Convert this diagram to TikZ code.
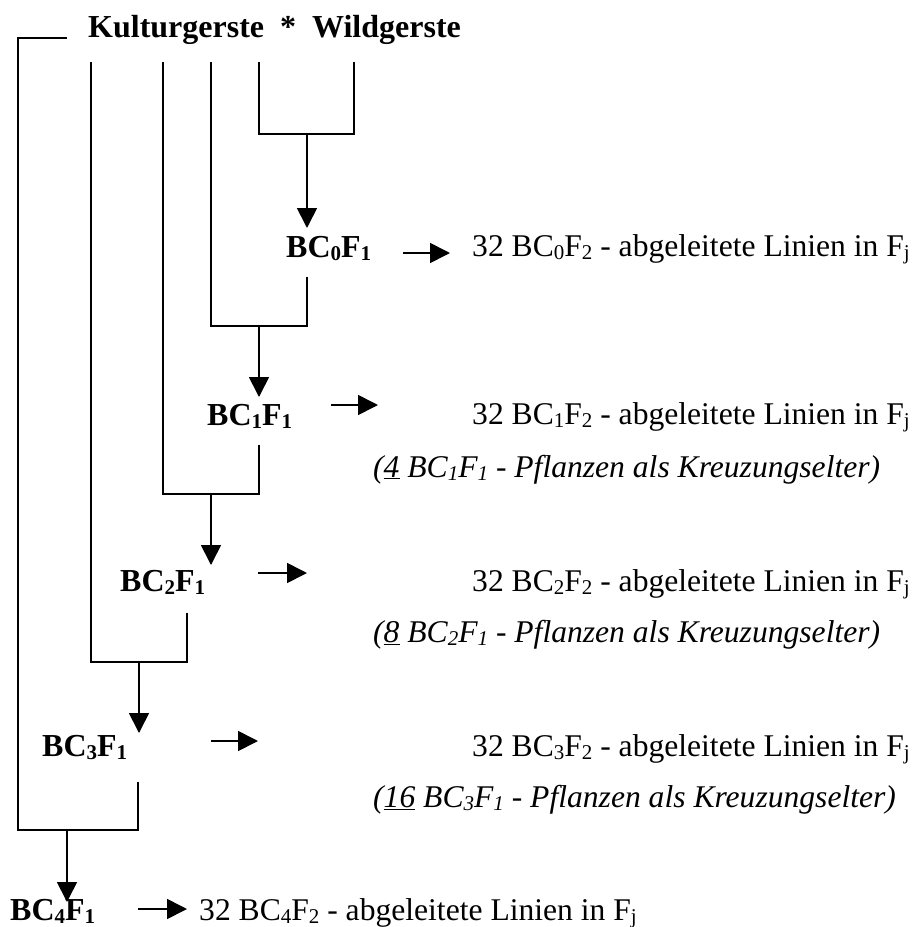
\documentclass[tikz,border=0pt]{standalone}
\usepackage{fontspec}
\setmainfont{Liberation Serif}
\usetikzlibrary{arrows.meta}
\newcommand{\lo}[1]{\raisebox{-0.1em}{\fontsize{21}{21}\selectfont #1}}
\begin{document}
\begin{tikzpicture}[x=1pt,y=-1pt,
  line/.style={line width=1.7pt},
  arr/.style={line width=1.7pt,-{Triangle[width=20pt,length=20pt]}},
  base/.style={inner sep=0pt,anchor=base west,font=\fontsize{31.6}{38}\selectfont},
  bold/.style={base,font=\fontsize{32}{38}\selectfont\bfseries},
  ital/.style={base,font=\fontsize{31.6}{38}\selectfont\itshape}]
\path[use as bounding box] (0,0) rectangle (916,927);

% texts
\node[bold] (title) at (88,37) {Kulturgerste~~*~~Wildgerste};
\node[bold] (bc0) at (286,257) {BC\lo{0}F\lo{1}};
\node[bold] (bc1) at (207,425) {BC\lo{1}F\lo{1}};
\node[bold] (bc2) at (120,591) {BC\lo{2}F\lo{1}};
\node[bold] (bc3) at (42,756) {BC\lo{3}F\lo{1}};
\node[bold] (bc4) at (10,920) {BC\lo{4}F\lo{1}};

\node[base] (t0) at (472,256) {32 BC\lo{0}F\lo{2} - abgeleitete Linien in F\lo{j}};
\node[base] (t1) at (472,424) {32 BC\lo{1}F\lo{2} - abgeleitete Linien in F\lo{j}};
\node[base] (t2) at (472,591) {32 BC\lo{2}F\lo{2} - abgeleitete Linien in F\lo{j}};
\node[base] (t3) at (472,756) {32 BC\lo{3}F\lo{2} - abgeleitete Linien in F\lo{j}};
\node[base] (t4) at (199,920) {32 BC\lo{4}F\lo{2} - abgeleitete Linien in F\lo{j}};

\node[ital] (i1) at (373,477) {(\underline{4} BC\lo{1}F\lo{1} - Pflanzen als Kreuzungselter)};
\node[ital] (i2) at (373,642) {(\underline{8} BC\lo{2}F\lo{1} - Pflanzen als Kreuzungselter)};
\node[ital] (i3) at (373,807) {(\underline{16} BC\lo{3}F\lo{1} - Pflanzen als Kreuzungselter)};

% junction coordinates
\coordinate (a0) at (18,38); \coordinate (a1) at (67,38);
\coordinate (p91) at (91,62); \coordinate (p163) at (163,62);
\coordinate (p211) at (211,62); \coordinate (p259) at (259,62);
\coordinate (p354) at (354,62);

\coordinate (h0l) at (259,134); \coordinate (h0r) at (354,134);
\coordinate (h0m) at (307,134); \coordinate (tip0) at (307,228);

\coordinate (s0) at (307,277); \coordinate (h1r) at (307,326);
\coordinate (h1l) at (211,326); \coordinate (h1m) at (259,326);
\coordinate (tip1) at (259,397);

\coordinate (s1) at (259,445); \coordinate (h2r) at (259,494);
\coordinate (h2l) at (163,494); \coordinate (h2m) at (211,494);
\coordinate (tip2) at (211,565);

\coordinate (s2) at (187,613); \coordinate (h3r) at (187,662);
\coordinate (h3l) at (91,662); \coordinate (h3m) at (139,662);
\coordinate (tip3) at (139,733);

\coordinate (s3) at (138,782); \coordinate (h4r) at (138,830);
\coordinate (h4l) at (18,830); \coordinate (h4m) at (67,830);
\coordinate (tip4) at (67,902);

\coordinate (r0a) at (403,253); \coordinate (r0b) at (450,253);
\coordinate (r1a) at (331,405); \coordinate (r1b) at (378,405);
\coordinate (r2a) at (258,573); \coordinate (r2b) at (307,573);
\coordinate (r3a) at (211,741); \coordinate (r3b) at (258,741);
\coordinate (r4a) at (138,909); \coordinate (r4b) at (187,909);

% brackets
\draw[line] (a1) -- (a0) -- (h4l) -- (h4r) -- (s3);
\draw[line] (p354) -- (h0r) -- (h0l) -- (p259);
\draw[line] (p211) -- (h1l) -- (h1r) -- (s0);
\draw[line] (p163) -- (h2l) -- (h2r) -- (s1);
\draw[line] (p91) -- (h3l) -- (h3r) -- (s2);

% down arrows
\draw[arr] (h0m) -- (tip0);
\draw[arr] (h1m) -- (tip1);
\draw[arr] (h2m) -- (tip2);
\draw[arr] (h3m) -- (tip3);
\draw[arr] (h4m) -- (tip4);

% right arrows
\draw[arr] (r0a) -- (r0b);
\draw[arr] (r1a) -- (r1b);
\draw[arr] (r2a) -- (r2b);
\draw[arr] (r3a) -- (r3b);
\draw[arr] (r4a) -- (r4b);
\end{tikzpicture}
\end{document}
